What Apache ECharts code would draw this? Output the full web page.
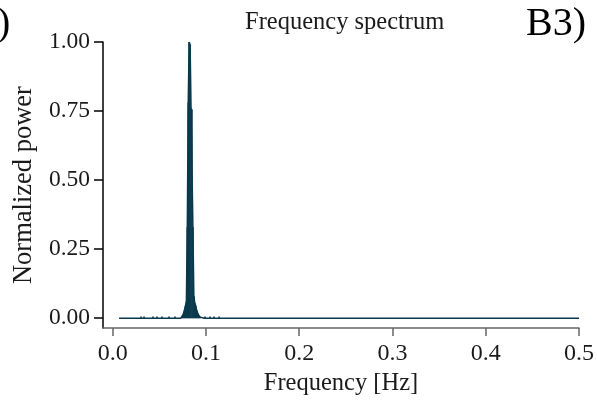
<!DOCTYPE html>
<html>
<head>
<meta charset="utf-8">
<script src="https://cdn.jsdelivr.net/npm/echarts@6/dist/echarts.min.js"></script>
<style>
html,body{margin:0;padding:0;background:#fff;}
#chart{width:597px;height:401px;}
</style>
</head>
<body>
<div id="chart"></div>
<script>
// Frequency (Hz) and normalized power
const freq = [
  0.0068,
  0.0294, 0.0304, 0.0314,
  0.0326, 0.0336, 0.0346,
  0.0422, 0.0432, 0.0442,
  0.0465, 0.0475, 0.0485,
  0.0519, 0.0529, 0.0539,
  0.0594, 0.0604, 0.0614,
  0.0658, 0.0668, 0.0678,
  0.073, 0.074, 0.075, 0.076, 0.077, 0.078, 0.079, 0.080, 0.081, 0.082,
  0.083, 0.084, 0.085, 0.086, 0.087, 0.088, 0.089, 0.090, 0.091, 0.092,
  0.093, 0.094, 0.095,
  0.0980, 0.0990, 0.1000,
  0.1034, 0.1044, 0.1054,
  0.1077, 0.1087, 0.1097,
  0.1131, 0.1141, 0.1151,
  0.5
];
const power = [
  0,
  0, 0.006, 0,
  0, 0.006, 0,
  0, 0.006, 0,
  0, 0.006, 0,
  0, 0.006, 0,
  0, 0.006, 0,
  0, 0.006, 0,
  0, 0.005, 0.01, 0.018, 0.03, 0.045, 0.06, 0.33, 0.78, 1.0,
  0.99, 0.76, 0.757, 0.33, 0.08, 0.055, 0.045, 0.03, 0.02, 0.012,
  0.007, 0.004, 0,
  0, 0.006, 0,
  0, 0.006, 0,
  0, 0.006, 0,
  0, 0.006, 0,
  0
];
const xTicks = [0, 0.1, 0.2, 0.3, 0.4, 0.5];
const yTicks = [0, 0.25, 0.5, 0.75, 1.0];
const titleText = 'Frequency spectrum';
const xName = 'Frequency [Hz]';
const yName = 'Normalized power';
const panelLabel = 'B3)';

const FONT = '"Liberation Serif", "DejaVu Serif", serif';
const seriesColor = '#0a394d';
const pairs = freq.map((f, i) => [f, power[i]]);

const chart = echarts.init(document.getElementById('chart'), null, {renderer: 'canvas'});
chart.setOption({
  animation: false,
  backgroundColor: '#ffffff',
  grid: {left: 103, right: 18, top: 42, bottom: 69, containLabel: false},
  xAxis: {
    type: 'value',
    min: -0.0104,
    max: 0.5,
    name: xName,
    nameLocation: 'middle',
    nameGap: 38,
    nameTextStyle: {fontFamily: FONT, fontSize: 24.5, color: '#1a1a1a'},
    axisLine: {show: true, onZero: false, lineStyle: {color: '#666', width: 1.5}},
    axisTick: {show: true, length: 8, inside: false, customValues: xTicks, lineStyle: {color: '#666', width: 1.5}},
    axisLabel: {
      customValues: xTicks,
      margin: 14,
      fontFamily: FONT, fontSize: 24, color: '#1a1a1a',
      formatter: v => v.toFixed(1)
    },
    splitLine: {show: false}
  },
  yAxis: {
    type: 'value',
    min: -0.0357,
    max: 1.0,
    name: yName,
    nameLocation: 'middle',
    nameGap: 65,
    nameRotate: 90,
    nameTextStyle: {fontFamily: FONT, fontSize: 26.5, color: '#1a1a1a'},
    axisLine: {show: true, onZero: false, lineStyle: {color: '#000', width: 1.5}},
    axisTick: {show: true, length: 9, inside: false, customValues: yTicks, lineStyle: {color: '#000', width: 1.5}},
    axisLabel: {
      customValues: yTicks,
      margin: 13,
      fontFamily: FONT, fontSize: 23.5, color: '#1a1a1a',
      formatter: v => v.toFixed(2)
    },
    splitLine: {show: false}
  },
  series: [
    {
      type: 'line',
      data: pairs,
      symbol: 'none',
      lineStyle: {color: seriesColor, width: 1.5},
      z: 3
    },
    {
      type: 'bar',
      data: pairs,
      barWidth: 1.6,
      itemStyle: {color: seriesColor},
      z: 4
    }
  ],
  graphic: [
    {type: 'text', left: 245, top: 10, style: {text: titleText, font: '24.5px ' + FONT, fill: '#1a1a1a'}},
    {type: 'text', left: 526, top: 4, style: {text: panelLabel, font: '40px ' + FONT, fill: '#000'}},
    {type: 'text', left: -52, top: 4, style: {text: 'A3)', font: '40px ' + FONT, fill: '#000'}}
  ]
});
</script>
</body>
</html>
